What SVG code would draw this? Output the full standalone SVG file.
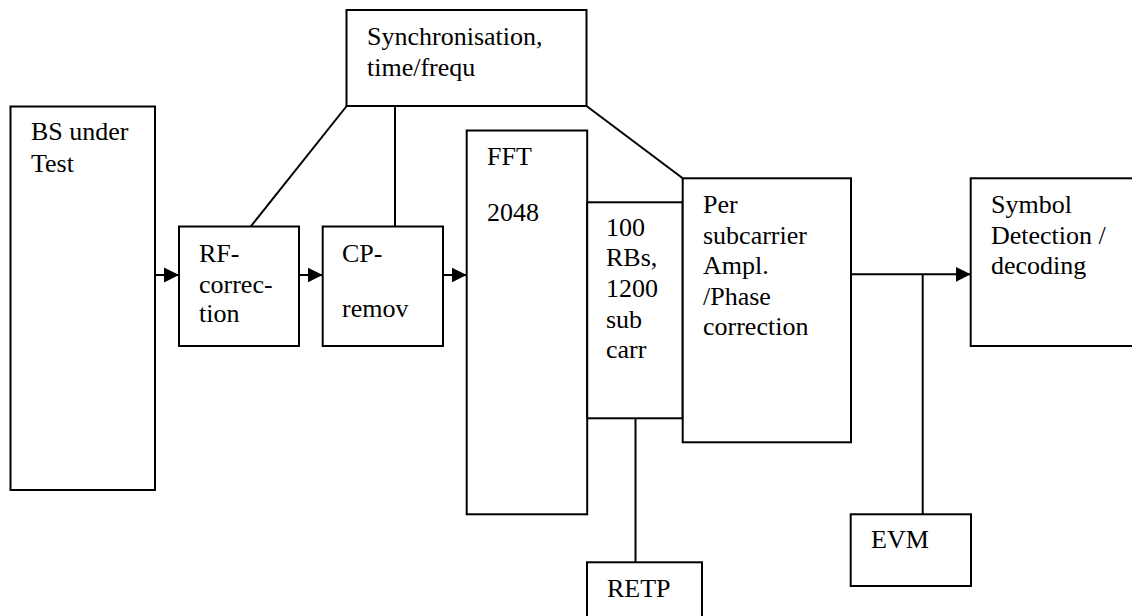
<svg xmlns="http://www.w3.org/2000/svg" width="1132" height="616" viewBox="0 0 1132 616">
<style>
.box{fill:#fff;stroke:#000;stroke-width:2}
.ln{fill:none;stroke:#000;stroke-width:2}
</style>
<defs>
<marker id="ah" markerUnits="userSpaceOnUse" markerWidth="16" markerHeight="16" refX="15" refY="8" orient="auto">
<path d="M0,0.5 L15,8 L0,15.5 Z" fill="#000"/>
</marker>
</defs>
<rect width="1132" height="616" fill="#fff"/>
<g font-family="Liberation Serif, Times New Roman, Tinos, Nimbus Roman, serif" font-size="26" fill="#000">
<g id="sync"><rect class="box" x="346.5" y="10" width="240" height="96"/>
<text x="367" y="45">Synchronisation,</text><text x="367" y="76">time/frequ</text></g>
<g id="bs"><rect class="box" x="10.5" y="106.5" width="144.5" height="383.5"/>
<text x="31" y="140">BS under</text><text x="31" y="172">Test</text></g>
<g id="rf"><rect class="box" x="179" y="226.5" width="120" height="119.5"/>
<text x="199" y="262">RF-</text><text x="199" y="293">correc-</text><text x="199" y="322">tion</text></g>
<g id="cp"><rect class="box" x="322.7" y="226.5" width="120.3" height="119.5"/>
<text x="342" y="262">CP-</text><text x="342" y="317">remov</text></g>
<g id="fft"><rect class="box" x="466.7" y="130.5" width="120.5" height="383.8"/>
<text x="487" y="165">FFT</text><text x="487" y="221">2048</text></g>
<g id="rbs"><rect class="box" x="587.2" y="202.3" width="95.5" height="216"/>
<text x="606" y="236">100</text><text x="606" y="266">RBs,</text><text x="606" y="297">1200</text><text x="606" y="328">sub</text><text x="606" y="358">carr</text></g>
<g id="per"><rect class="box" x="682.7" y="178.3" width="168.3" height="264"/>
<text x="703" y="213">Per</text><text x="703" y="243.5">subcarrier</text><text x="703" y="274">Ampl.</text><text x="703" y="304.5">/Phase</text><text x="703" y="335">correction</text></g>
<g id="sym"><rect class="box" x="970.7" y="178.3" width="175" height="167.7"/>
<text x="991" y="213">Symbol</text><text x="991" y="243.5">Detection /</text><text x="991" y="274">decoding</text></g>
<g id="evm"><rect class="box" x="850.7" y="514.3" width="120.3" height="71.7"/>
<text x="871" y="548">EVM</text></g>
<g id="retp"><rect class="box" x="587" y="562.3" width="115" height="70"/>
<text x="607" y="597">RETP</text></g>
</g>
<g id="connectors">
<line class="ln" x1="155" y1="275" x2="179" y2="275" marker-end="url(#ah)"/>
<line class="ln" x1="299" y1="275" x2="322.7" y2="275" marker-end="url(#ah)"/>
<line class="ln" x1="443" y1="275" x2="466.7" y2="275" marker-end="url(#ah)"/>
<line class="ln" x1="851" y1="274.3" x2="970.7" y2="274.3" marker-end="url(#ah)"/>
<line class="ln" x1="346.7" y1="106" x2="250.7" y2="226.5"/>
<line class="ln" x1="395" y1="106" x2="395" y2="226.5"/>
<line class="ln" x1="586.5" y1="106" x2="682.7" y2="178.3"/>
<line class="ln" x1="922.7" y1="274.3" x2="922.7" y2="514.3"/>
<line class="ln" x1="635.5" y1="418.3" x2="635.5" y2="562.3"/>
</g>
</svg>
